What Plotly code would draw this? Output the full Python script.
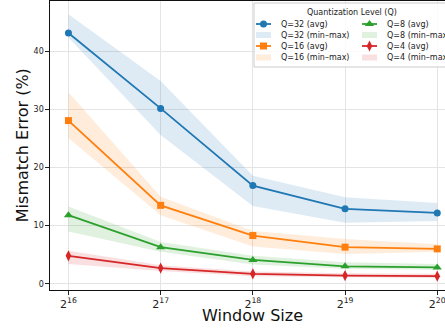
import plotly.graph_objects as go

# Window size exponents (window = 2**exp)
exponents = [16, 17, 18, 19, 20]
tick_text = ["2<sup>16</sup>", "2<sup>17</sup>", "2<sup>18</sup>", "2<sup>19</sup>", "2<sup>20</sup>"]
y_ticks = [0, 10, 20, 30, 40]

# Mismatch error (%) per quantization level: average, minimum, maximum
q32_avg = [43.2, 30.2, 16.9, 12.9, 12.2]
q32_min = [42.4, 25.6, 13.4, 10.5, 10.8]
q32_max = [46.4, 34.9, 18.6, 14.9, 13.9]

q16_avg = [28.1, 13.5, 8.3, 6.3, 6.0]
q16_min = [25.1, 11.8, 6.4, 5.1, 5.5]
q16_max = [33.0, 15.0, 9.1, 7.7, 6.8]

q8_avg = [11.8, 6.3, 4.1, 3.0, 2.8]
q8_min = [9.0, 5.5, 3.3, 2.6, 2.4]
q8_max = [13.3, 7.2, 4.8, 3.7, 3.4]

q4_avg = [4.8, 2.7, 1.7, 1.4, 1.3]
q4_min = [3.4, 2.2, 1.3, 1.1, 1.0]
q4_max = [5.7, 3.2, 2.1, 1.8, 1.7]

labels = ["Q=32", "Q=16", "Q=8", "Q=4"]
colors = ["#1f77b4", "#ff7f0e", "#2ca02c", "#d62728"]
fills = ["rgba(31,119,180,0.15)", "rgba(255,127,14,0.15)",
         "rgba(44,160,44,0.15)", "rgba(214,39,40,0.15)"]
symbols = ["circle", "square", "triangle-up", "diamond-tall"]
sizes = [7, 7, 8, 8]
avgs = [q32_avg, q16_avg, q8_avg, q4_avg]
mins = [q32_min, q16_min, q8_min, q4_min]
maxs = [q32_max, q16_max, q8_max, q4_max]

FONT = "DejaVu Sans"
W, H = 445, 331
L, T, B = 50, 1, 41          # plot area margins (px); right side runs to the page edge

fig = go.Figure()

# shaded min-max bands
for lab, lo, hi, fc in zip(labels, mins, maxs, fills):
    fig.add_trace(go.Scatter(
        x=exponents + exponents[::-1], y=hi + lo[::-1],
        fill="toself", fillcolor=fc, line=dict(width=0, color=fc),
        mode="lines", name=f"{lab} (min\u2013max)", hoverinfo="skip",
    ))

# average curves
for lab, avg, col, sym, ms in zip(labels, avgs, colors, symbols, sizes):
    fig.add_trace(go.Scatter(
        x=exponents, y=avg, mode="lines+markers",
        line=dict(color=col, width=1.8),
        marker=dict(symbol=sym, size=ms, color=col),
        name=f"{lab} (avg)",
    ))

# ---- legend drawn on a pixel-coordinate overlay (x2/y2) ----
box_left, box_top, box_bottom = 254, 3, 67
fig.add_trace(go.Scatter(
    x=[box_left, 470, 470, box_left, box_left],
    y=[box_top, box_top, box_bottom, box_bottom, box_top],
    xaxis="x2", yaxis="y2", mode="lines", fill="toself",
    fillcolor="rgba(255,255,255,0.85)", line=dict(color="#cccccc", width=1),
    hoverinfo="skip", showlegend=False,
))

col_key_x = [256, 362]      # left end of each column's key
col_text_x = [279, 385]
row_y = [24, 35, 46, 57.5]
key_len = 15

annotations = []
shapes = []
for i, (lab, col, fc, sym, ms) in enumerate(zip(labels, colors, fills, symbols, sizes)):
    c = i // 2               # column
    r_avg = (i % 2) * 2      # row of the "(avg)" entry
    r_band = r_avg + 1
    kx0 = col_key_x[c]
    kx1 = kx0 + key_len
    # line + marker key
    fig.add_trace(go.Scatter(
        x=[kx0, kx1], y=[row_y[r_avg]] * 2, xaxis="x2", yaxis="y2",
        mode="lines", line=dict(color=col, width=1.8),
        hoverinfo="skip", showlegend=False,
    ))
    fig.add_trace(go.Scatter(
        x=[(kx0 + kx1) / 2], y=[row_y[r_avg]], xaxis="x2", yaxis="y2",
        mode="markers", marker=dict(symbol=sym, size=ms, color=col),
        hoverinfo="skip", showlegend=False,
    ))
    # band swatch
    shapes.append(dict(
        type="rect", xref="x2", yref="y2",
        x0=kx0, x1=kx1, y0=row_y[r_band] - 3, y1=row_y[r_band] + 3,
        fillcolor=fc, line=dict(width=0), layer="above",
    ))
    for r, txt in ((r_avg, f"{lab} (avg)"), (r_band, f"{lab} (min\u2013max)")):
        annotations.append(dict(
            x=col_text_x[c], y=row_y[r], xref="x2", yref="y2",
            text=txt, showarrow=False, xanchor="left", yanchor="middle",
            font=dict(size=8, family=FONT, color="#222222"),
        ))

annotations.append(dict(
    x=352, y=12, xref="x2", yref="y2", text="Quantization Level (Q)",
    showarrow=False, xanchor="center", yanchor="middle",
    font=dict(size=8, family=FONT, color="#222222"),
))

# axis titles
annotations.append(dict(
    x=(252.8 - L) / (W - L), y=(H - B - 315.5) / (H - B - T),
    xref="paper", yref="paper", text="Window Size", showarrow=False,
    xanchor="center", yanchor="middle",
    font=dict(size=16, family=FONT, color="#111111"),
))
annotations.append(dict(
    x=(22.7 - L) / (W - L), y=0.5, xref="paper", yref="paper",
    text="Mismatch Error (%)", textangle=-90, showarrow=False,
    xanchor="center", yanchor="middle",
    font=dict(size=16, family=FONT, color="#111111"),
))

fig.update_layout(
    width=W, height=H,
    margin=dict(l=L, r=0, t=T, b=B, autoexpand=False),
    plot_bgcolor="white", paper_bgcolor="white",
    font=dict(family=FONT, color="#222222"),
    showlegend=False,
    annotations=annotations,
    shapes=shapes,
    xaxis=dict(
        range=[15.8, 20.084],
        tickmode="array", tickvals=exponents, ticktext=tick_text,
        tickfont=dict(size=11, family=FONT, color="#222222"),
        ticks="outside", ticklen=3.5, tickcolor="#222222",
        ticklabeloverflow="allow",
        showgrid=True, gridcolor="#e4e4e4", gridwidth=1,
        showline=True, linecolor="#111111", linewidth=1.2, mirror=True,
        zeroline=False, automargin=False,
    ),
    yaxis=dict(
        range=[-1.08, 48.7],
        tickmode="array", tickvals=y_ticks,
        tickfont=dict(size=8, family=FONT, color="#222222"),
        ticks="outside", ticklen=3.5, tickcolor="#222222",
        showgrid=True, gridcolor="#e4e4e4", gridwidth=1,
        showline=True, linecolor="#111111", linewidth=1.2, mirror=False,
        zeroline=False, automargin=False,
    ),
    xaxis2=dict(overlaying="x", anchor="y2", range=[L, W], visible=False,
                fixedrange=True),
    yaxis2=dict(overlaying="y", anchor="x2", range=[H - B, T], visible=False,
                fixedrange=True),
)

fig.write_html("out.html")
